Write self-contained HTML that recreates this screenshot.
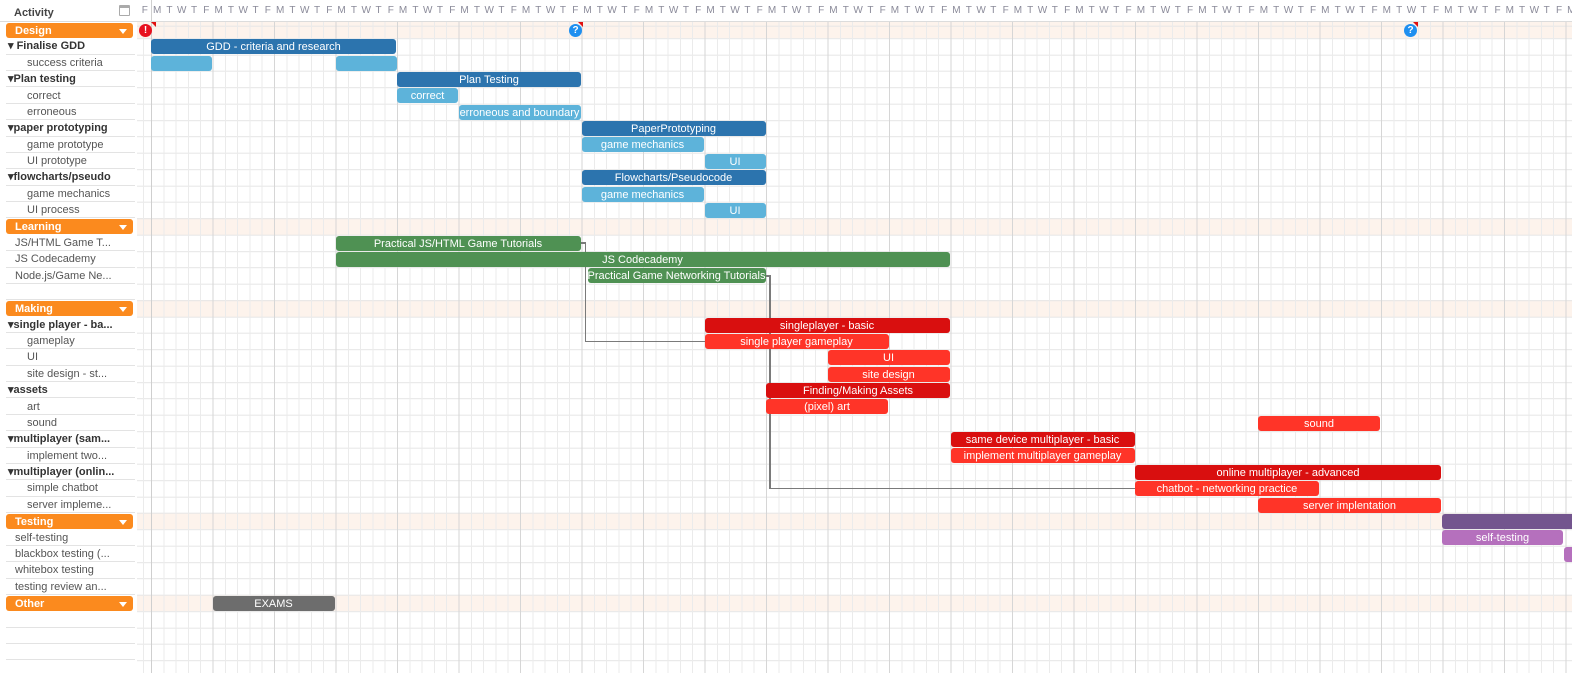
<!DOCTYPE html>
<html><head><meta charset="utf-8"><style>
*{margin:0;padding:0;box-sizing:border-box}
body{width:1572px;height:673px;overflow:hidden;background:#fff;font-family:"Liberation Sans",sans-serif;position:relative}
.a{position:absolute}
.band{position:absolute;left:137px;right:0;height:16.4px;background:#fdf3ec}
.grid{position:absolute;left:137px;top:22px;right:0;bottom:0;
background:
repeating-linear-gradient(to right,#d6d6d6 0 1px,transparent 1px 61.5px) 14px 0/100% 100%,
repeating-linear-gradient(to right,#ebebeb 0 1px,transparent 1px 12.3px) 14px 0/100% 100%,
repeating-linear-gradient(to bottom,#e6e6e6 0 1px,transparent 1px 16.37px) 0 16.2px/100% 100%;}
.lrow{position:absolute;left:6px;width:129px;height:16.37px;border-bottom:1px solid #e3e3e3;font-size:11px;color:#555;line-height:17px;white-space:nowrap}
.lrow.b{font-weight:bold;color:#333;padding-left:2px}
.lrow.c{padding-left:21px}
.lrow.n{padding-left:9px}
.grp{position:absolute;left:6px;width:127px;height:15px;background:#fb8a1e;border-radius:3px;color:#fff;font-weight:bold;font-size:11px;line-height:16px;padding-left:9px}
.grp:after{content:"";position:absolute;right:6px;top:6px;border-left:4px solid transparent;border-right:4px solid transparent;border-top:5px solid #fff}
.bar{position:absolute;height:15px;border-radius:3px;color:#fff;font-size:11px;line-height:16px;text-align:center;white-space:nowrap;overflow:hidden}
.db{background:#2c74ae}.lb{background:#5db3da}.gr{background:#4f9153}.dr{background:#d90f0f}.rd{background:#ff3428}.pu{background:#73558e}.lp{background:#b570bd}.gy{background:#6d6d6d}
.hd{position:absolute;top:5px;font-size:10px;color:#8a8a99;width:12.3px;text-align:center}
.ln{position:absolute;background:#7a7a7a}
.ic{position:absolute;width:13px;height:13px;border-radius:50%;color:#fff;font-size:10px;font-weight:bold;text-align:center;line-height:13px}
.tri{position:absolute;width:0;height:0;border-left:5px solid transparent;border-top:5px solid #e01010}
.wk{display:inline-block;width:12.3px;text-align:center;flex:none}
</style></head><body>
<div class="band" style="top:22px"></div>
<div class="band" style="top:218.4px"></div>
<div class="band" style="top:300.3px"></div>
<div class="band" style="top:513.1px"></div>
<div class="band" style="top:595px"></div>
<div class="grid"></div>
<div class="a" style="left:151px;top:0;width:1px;height:673px;background:#cfcfcf"></div>
<div class="a" style="left:0;top:21px;width:1572px;height:1px;background:#dcdcdc"></div>
<div class="a" style="left:14px;top:7px;font-size:11px;font-weight:bold;color:#444">Activity</div>
<div class="a" style="left:119px;top:5px;width:11px;height:11px;border:1px solid #aaa;border-top-width:3px;border-radius:1px"></div>

<!-- left panel -->
<div class="grp" style="top:22.7px">Design</div>
<div class="lrow b" style="top:38.4px">▾ Finalise GDD</div>
<div class="lrow c" style="top:54.7px">success criteria</div>
<div class="lrow b" style="top:71.1px">▾Plan testing</div>
<div class="lrow c" style="top:87.5px">correct</div>
<div class="lrow c" style="top:103.9px">erroneous</div>
<div class="lrow b" style="top:120.2px">▾paper prototyping</div>
<div class="lrow c" style="top:136.6px">game prototype</div>
<div class="lrow c" style="top:153px">UI prototype</div>
<div class="lrow b" style="top:169.3px">▾flowcharts/pseudo</div>
<div class="lrow c" style="top:185.7px">game mechanics</div>
<div class="lrow c" style="top:202.1px">UI process</div>
<div class="grp" style="top:219.1px">Learning</div>
<div class="lrow n" style="top:234.8px">JS/HTML Game T...</div>
<div class="lrow n" style="top:251.2px">JS Codecademy</div>
<div class="lrow n" style="top:267.6px">Node.js/Game Ne...</div>
<div class="lrow n" style="top:283.9px"></div>
<div class="grp" style="top:301px">Making</div>
<div class="lrow b" style="top:316.7px">▾single player - ba...</div>
<div class="lrow c" style="top:333px">gameplay</div>
<div class="lrow c" style="top:349.4px">UI</div>
<div class="lrow c" style="top:365.8px">site design - st...</div>
<div class="lrow b" style="top:382.1px">▾assets</div>
<div class="lrow c" style="top:398.5px">art</div>
<div class="lrow c" style="top:414.9px">sound</div>
<div class="lrow b" style="top:431.3px">▾multiplayer (sam...</div>
<div class="lrow c" style="top:447.6px">implement two...</div>
<div class="lrow b" style="top:464px">▾multiplayer (onlin...</div>
<div class="lrow c" style="top:480.4px">simple chatbot</div>
<div class="lrow c" style="top:496.7px">server impleme...</div>
<div class="grp" style="top:513.8px">Testing</div>
<div class="lrow n" style="top:529.5px">self-testing</div>
<div class="lrow n" style="top:545.8px">blackbox testing (...</div>
<div class="lrow n" style="top:562.2px">whitebox testing</div>
<div class="lrow n" style="top:578.6px">testing review an...</div>
<div class="grp" style="top:595.7px">Other</div>
<div class="lrow" style="top:611.3px"></div>
<div class="lrow" style="top:627.7px"></div>
<div class="lrow" style="top:644px"></div>

<!-- connectors -->
<div class="ln" style="left:581px;top:242px;width:5px;height:1.5px"></div>
<div class="ln" style="left:584.5px;top:242px;width:1.5px;height:100px"></div>
<div class="ln" style="left:584.5px;top:340.5px;width:121px;height:1.5px"></div>
<div class="ln" style="left:765px;top:275px;width:5.5px;height:1.5px"></div>
<div class="ln" style="left:769px;top:275px;width:1.5px;height:214px"></div>
<div class="ln" style="left:769px;top:487.5px;width:367px;height:1.5px"></div>

<!-- bars -->
<div class="bar db" style="left:151px;width:245px;top:39.2px">GDD - criteria and research</div>
<div class="bar lb" style="left:151px;width:61px;top:55.5px"></div>
<div class="bar lb" style="left:335.5px;width:61px;top:55.5px"></div>
<div class="bar db" style="left:397px;width:184px;top:71.9px">Plan Testing</div>
<div class="bar lb" style="left:397px;width:61px;top:88.3px">correct</div>
<div class="bar lb" style="left:458.5px;width:122px;top:104.7px">erroneous and boundary</div>
<div class="bar db" style="left:581.5px;width:184px;top:121px">PaperPrototyping</div>
<div class="bar lb" style="left:581.5px;width:122px;top:137.4px">game mechanics</div>
<div class="bar lb" style="left:704.5px;width:61px;top:153.8px">UI</div>
<div class="bar db" style="left:581.5px;width:184px;top:170.1px">Flowcharts/Pseudocode</div>
<div class="bar lb" style="left:581.5px;width:122px;top:186.5px">game mechanics</div>
<div class="bar lb" style="left:704.5px;width:61px;top:202.9px">UI</div>
<div class="bar gr" style="left:335.5px;width:245px;top:235.6px">Practical JS/HTML Game Tutorials</div>
<div class="bar gr" style="left:335.5px;width:614px;top:252px">JS Codecademy</div>
<div class="bar gr" style="left:587.5px;width:178px;top:268.4px">Practical Game Networking Tutorials</div>
<div class="bar dr" style="left:704.5px;width:245px;top:317.5px">singleplayer - basic</div>
<div class="bar rd" style="left:704.5px;width:184px;top:333.8px">single player gameplay</div>
<div class="bar rd" style="left:827.5px;width:122px;top:350.2px">UI</div>
<div class="bar rd" style="left:827.5px;width:122px;top:366.6px">site design</div>
<div class="bar dr" style="left:766px;width:184px;top:382.9px">Finding/Making Assets</div>
<div class="bar rd" style="left:766px;width:122px;top:399.3px">(pixel) art</div>
<div class="bar rd" style="left:1258px;width:122px;top:415.7px">sound</div>
<div class="bar dr" style="left:950.5px;width:184px;top:432.1px">same device multiplayer - basic</div>
<div class="bar rd" style="left:950.5px;width:184px;top:448.4px">implement multiplayer gameplay</div>
<div class="bar dr" style="left:1135px;width:306px;top:464.8px">online multiplayer - advanced</div>
<div class="bar rd" style="left:1135px;width:184px;top:481.2px">chatbot - networking practice</div>
<div class="bar rd" style="left:1258px;width:183px;top:497.5px">server implentation</div>
<div class="bar pu" style="left:1442px;width:140px;top:513.9px;border-radius:3px 0 0 3px"></div>
<div class="bar lp" style="left:1442px;width:121px;top:530.3px">self-testing</div>
<div class="bar lp" style="left:1564px;width:20px;top:546.6px"></div>
<div class="bar gy" style="left:212.5px;width:122px;top:595.8px">EXAMS</div>

<!-- icons -->
<div class="ic" style="left:139px;top:24px;background:#e8101e">!</div>
<div class="tri" style="left:151px;top:22px"></div>
<div class="ic" style="left:569px;top:24px;background:#1e8ff0">?</div>
<div class="tri" style="left:578px;top:22px"></div>
<div class="ic" style="left:1404px;top:24px;background:#1e8ff0">?</div>
<div class="tri" style="left:1413px;top:22px"></div>

<div class="hd" style="left:138.7px">F</div>
<div class="a" style="left:151px;top:5px;font-size:10px;color:#8a8a99;white-space:nowrap;display:flex">
<span class="wk">M</span><span class="wk">T</span><span class="wk">W</span><span class="wk">T</span><span class="wk">F</span>
<span class="wk">M</span><span class="wk">T</span><span class="wk">W</span><span class="wk">T</span><span class="wk">F</span>
<span class="wk">M</span><span class="wk">T</span><span class="wk">W</span><span class="wk">T</span><span class="wk">F</span>
<span class="wk">M</span><span class="wk">T</span><span class="wk">W</span><span class="wk">T</span><span class="wk">F</span>
<span class="wk">M</span><span class="wk">T</span><span class="wk">W</span><span class="wk">T</span><span class="wk">F</span>
<span class="wk">M</span><span class="wk">T</span><span class="wk">W</span><span class="wk">T</span><span class="wk">F</span>
<span class="wk">M</span><span class="wk">T</span><span class="wk">W</span><span class="wk">T</span><span class="wk">F</span>
<span class="wk">M</span><span class="wk">T</span><span class="wk">W</span><span class="wk">T</span><span class="wk">F</span>
<span class="wk">M</span><span class="wk">T</span><span class="wk">W</span><span class="wk">T</span><span class="wk">F</span>
<span class="wk">M</span><span class="wk">T</span><span class="wk">W</span><span class="wk">T</span><span class="wk">F</span>
<span class="wk">M</span><span class="wk">T</span><span class="wk">W</span><span class="wk">T</span><span class="wk">F</span>
<span class="wk">M</span><span class="wk">T</span><span class="wk">W</span><span class="wk">T</span><span class="wk">F</span>
<span class="wk">M</span><span class="wk">T</span><span class="wk">W</span><span class="wk">T</span><span class="wk">F</span>
<span class="wk">M</span><span class="wk">T</span><span class="wk">W</span><span class="wk">T</span><span class="wk">F</span>
<span class="wk">M</span><span class="wk">T</span><span class="wk">W</span><span class="wk">T</span><span class="wk">F</span>
<span class="wk">M</span><span class="wk">T</span><span class="wk">W</span><span class="wk">T</span><span class="wk">F</span>
<span class="wk">M</span><span class="wk">T</span><span class="wk">W</span><span class="wk">T</span><span class="wk">F</span>
<span class="wk">M</span><span class="wk">T</span><span class="wk">W</span><span class="wk">T</span><span class="wk">F</span>
<span class="wk">M</span><span class="wk">T</span><span class="wk">W</span><span class="wk">T</span><span class="wk">F</span>
<span class="wk">M</span><span class="wk">T</span><span class="wk">W</span><span class="wk">T</span><span class="wk">F</span>
<span class="wk">M</span><span class="wk">T</span><span class="wk">W</span><span class="wk">T</span><span class="wk">F</span>
<span class="wk">M</span><span class="wk">T</span><span class="wk">W</span><span class="wk">T</span><span class="wk">F</span>
<span class="wk">M</span><span class="wk">T</span><span class="wk">W</span><span class="wk">T</span><span class="wk">F</span>
<span class="wk">M</span>
</div>
</body></html>
